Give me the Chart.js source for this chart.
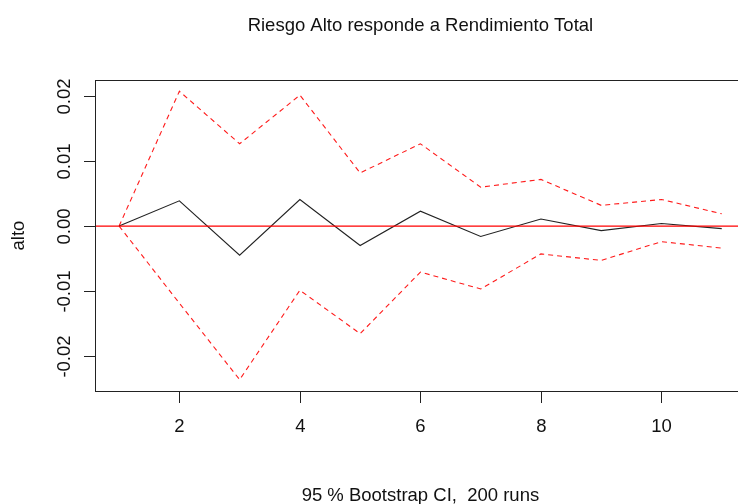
<!DOCTYPE html>
<html>
<head>
<meta charset="utf-8">
<script src="https://cdn.jsdelivr.net/npm/chart.js@4/dist/chart.umd.min.js"></script>
<style>
  html, body { margin: 0; padding: 0; background: #fff; }
  #wrap { width: 738px; height: 504px; }
</style>
</head>
<body>
<div id="wrap"><canvas id="irf"></canvas></div>
<script>
// horizons and bootstrap results
const steps = [1, 2, 3, 4, 5, 6, 7, 8, 9, 10, 11];
const irfValues = [0, 0.0039, -0.0045, 0.0041, -0.0030, 0.0023, -0.0016, 0.0011, -0.0007, 0.0004, -0.0004];
const upperCI = [0, 0.0208, 0.0127, 0.0202, 0.0082, 0.0127, 0.0060, 0.0072, 0.0032, 0.0041, 0.0019];
const lowerCI = [0, -0.0119, -0.0237, -0.0099, -0.0166, -0.0071, -0.0097, -0.0043, -0.0053, -0.0024, -0.0034];
const xTicks = [2, 4, 6, 8, 10];
const yTicks = [-0.02, -0.01, 0.00, 0.01, 0.02];
const yTickLabels = ['-0.02', '-0.01', '0.00', '0.01', '0.02'];
const zeroLine = [0];

const titleText = 'Riesgo Alto responde a Rendimiento Total';
const subText = '95 % Bootstrap CI,  200 runs';
const yTitle = 'alto';

const FONT = '18.5px "Liberation Sans", Arial, sans-serif';

function toPoints(vals) {
  return steps.map((s, i) => ({ x: s, y: vals[i] }));
}

// R style box, ticks and labels
const rAxes = {
  id: 'rAxes',
  afterDraw(chart) {
    const { ctx, chartArea: ca, scales } = chart;
    const xs = scales.x, ys = scales.y;
    const plotRight = xs.getPixelForValue(11.4);
    ctx.save();
    ctx.strokeStyle = '#222';
    ctx.lineWidth = 1;
    ctx.strokeRect(ca.left + 0.5, ca.top + 0.5, plotRight - ca.left, ca.bottom - ca.top);

    ctx.fillStyle = '#111';
    ctx.font = FONT;
    ctx.textAlign = 'center';
    ctx.textBaseline = 'alphabetic';

    // x ticks
    xTicks.forEach(v => {
      const px = Math.round(xs.getPixelForValue(v)) + 0.5;
      ctx.beginPath();
      ctx.moveTo(px, ca.bottom);
      ctx.lineTo(px, ca.bottom + 12);
      ctx.stroke();
      ctx.fillText(String(v), px, 432);
    });

    // y ticks, labels rotated like R
    yTicks.forEach((v, i) => {
      const py = Math.round(ys.getPixelForValue(v)) + 0.5;
      ctx.beginPath();
      ctx.moveTo(ca.left - 11, py);
      ctx.lineTo(ca.left, py);
      ctx.stroke();
      ctx.save();
      ctx.translate(69.5, py);
      ctx.rotate(-Math.PI / 2);
      ctx.fillText(yTickLabels[i], 0, 0);
      ctx.restore();
    });

    const midX = (ca.left + plotRight) / 2;
    ctx.fillText(titleText, midX, 31);
    ctx.fillText(subText, midX, 500.5);

    ctx.save();
    ctx.translate(24, (ca.top + ca.bottom) / 2);
    ctx.rotate(-Math.PI / 2);
    ctx.fillText(yTitle, 0, 0);
    ctx.restore();
    ctx.restore();
  }
};

new Chart(document.getElementById('irf'), {
  type: 'line',
  data: {
    datasets: [
      {
        label: 'zero',
        data: [{ x: 0.6, y: zeroLine[0] }, { x: 11.4, y: zeroLine[0] }],
        borderColor: '#ff0000',
        borderWidth: 1.3,
        pointRadius: 0
      },
      {
        label: 'irf',
        data: toPoints(irfValues),
        borderColor: '#222',
        borderWidth: 1.1,
        pointRadius: 0,
        tension: 0
      },
      {
        label: 'Upper',
        data: toPoints(upperCI),
        borderColor: '#ff1a1a',
        borderWidth: 1.1,
        borderDash: [5, 4],
        pointRadius: 0,
        tension: 0
      },
      {
        label: 'Lower',
        data: toPoints(lowerCI),
        borderColor: '#ff1a1a',
        borderWidth: 1.1,
        borderDash: [5, 4],
        pointRadius: 0,
        tension: 0
      }
    ]
  },
  options: {
    responsive: true,
    maintainAspectRatio: false,
    animation: false,
    layout: { padding: { left: 95, top: 80, right: 0, bottom: 113 } },
    plugins: {
      legend: { display: false },
      tooltip: { enabled: false }
    },
    scales: {
      x: { type: 'linear', display: false, min: 0.6, max: 11.27 },
      y: { type: 'linear', display: false, min: -0.02545, max: 0.02254 }
    }
  },
  plugins: [rAxes]
});
</script>
</body>
</html>
